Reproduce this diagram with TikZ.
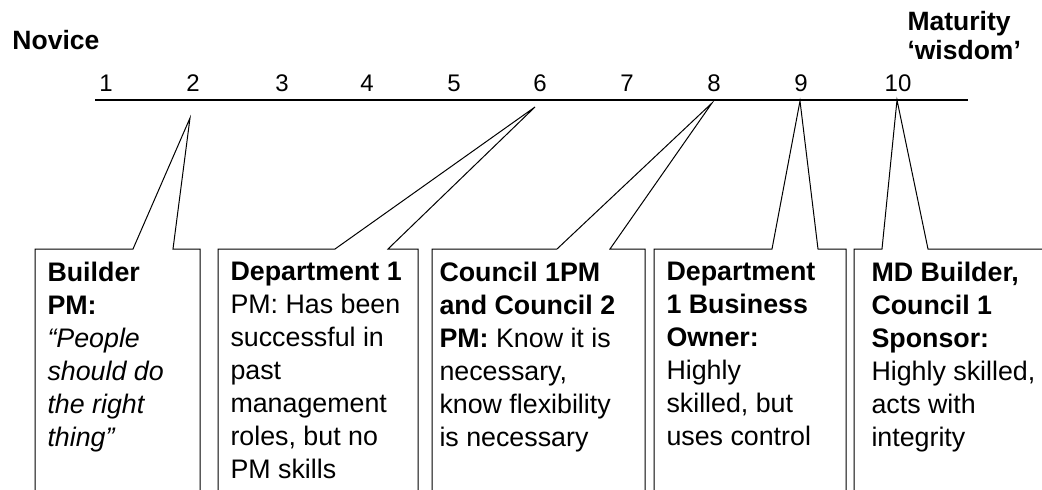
\documentclass[tikz,border=0pt]{standalone}
\usepackage{fontspec}
\setmainfont{Liberation Sans}
\usetikzlibrary{positioning,calc}

\begin{document}
\begin{tikzpicture}[x=1pt, y=-1pt, line width=1pt, line join=miter,
    level/.style={font=\fontsize{24}{26}\selectfont, anchor=base, inner sep=0pt},
    endlabel/.style={font=\fontsize{26.5}{29}\selectfont\bfseries, align=left, anchor=north west, inner sep=0pt},
    calltext/.style={font=\fontsize{26.8}{33}\selectfont, align=left, anchor=north west, inner sep=0pt}]
  \useasboundingbox (0,0) rectangle (1042,490);

  % the scale
  \coordinate (s0) at (95,100);
  \coordinate (s1) at (968,100);
  \draw[line width=1.3pt] (s0) -- (s1);
  \foreach \n/\x in {1/106,2/193,3/282,4/367,5/454,6/540,7/627,8/714,9/801,10/898}
    \node[level] (n\n) at (\x,91) {\n};
  \node[endlabel] (novice) at (12,30) {Novice};
  \node[endlabel] (maturity) at (907,11) {Maturity\\‘wisdom’};

  % callout tips
  \coordinate (p1) at (190,118);
  \coordinate (p2) at (535,107);
  \coordinate (p3) at (712,103);
  \coordinate (p4) at (800,101);
  \coordinate (p5) at (897,100);

  % callouts
  \draw (35,491) |- (133,249) -- (p1) -- (173,249) -| (200,491);
  \draw (218,491) |- (335,249) -- (p2) -- (388,249) -| (418,491);
  \draw (432,491) |- (557,249) -- (p3) -- (610,249) -| (645,491);
  \draw (654,491) |- (772,249) -- (p4) -- (818,249) -| (846,491);
  \draw (854,491) |- (882,249) -- (p5) -- (928,249) -- (1043,249);

  \node[calltext] (builder) at (47,262)
    {\textbf{Builder}\\\textbf{PM:}\\\textit{“People}\\\textit{should do}\\\textit{the right}\\\textit{thing”}};
  \node[calltext] (dept) at (230,262)
    {\textbf{Department 1}\\PM: Has been\\successful in\\past\\management\\roles, but no\\PM skills};
  \node[calltext] (council) at (439,262)
    {\textbf{Council 1PM}\\\textbf{and Council 2}\\\textbf{PM:} Know it is\\necessary,\\know flexibility\\is necessary};
  \node[calltext] (owner) at (666,262)
    {\textbf{Department}\\\textbf{1 Business}\\\textbf{Owner:}\\Highly\\skilled, but\\uses control};
  \node[calltext] (sponsor) at (871,262)
    {\textbf{MD Builder,}\\\textbf{Council 1}\\\textbf{Sponsor:}\\Highly skilled,\\acts with\\integrity};
\end{tikzpicture}
\end{document}
